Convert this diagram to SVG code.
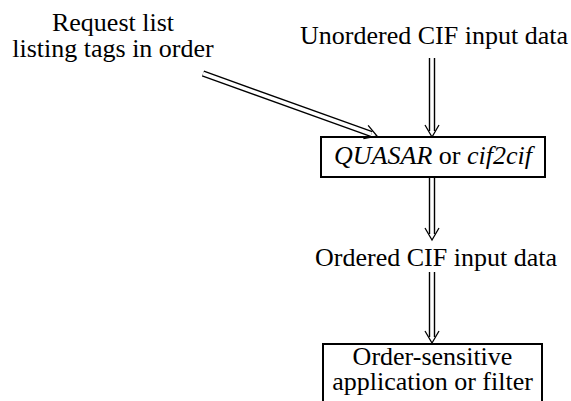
<svg xmlns="http://www.w3.org/2000/svg" width="571" height="401" viewBox="0 0 571 401">
<style>
  text { font-family: "Liberation Serif", "Times New Roman", serif; font-size: 26px; fill: #000; text-anchor: middle; }
  .it { font-style: italic; }
  .box { fill: #fff; stroke: #000; stroke-width: 2; }
  .outer { fill: none; stroke: #000; stroke-width: 6.4; }
  .inner { fill: none; stroke: #fff; stroke-width: 3.6; }
</style>
<defs>
  <marker id="chev" markerUnits="userSpaceOnUse" markerWidth="20" markerHeight="20" refX="6" refY="0" orient="auto" overflow="visible">
    <path d="M0,-7 L12,0 L0,7" fill="none" stroke="#000" stroke-width="1.3"/>
  </marker>
</defs>
<rect width="571" height="401" fill="#fff"/>

<g id="request">
  <text x="113" y="31">Request list</text>
  <text x="113" y="57">listing tags in order</text>
</g>
<g id="unordered">
  <text x="434" y="44">Unordered CIF input data</text>
</g>
<g id="quasar">
  <rect class="box" x="321" y="137" width="224" height="40"/>
  <text x="433" y="164"><tspan class="it">QUASAR</tspan> or <tspan class="it">cif2cif</tspan></text>
</g>
<g id="ordered">
  <text x="436" y="266">Ordered CIF input data</text>
</g>
<g id="application">
  <path class="box" d="M323,401 V344 H542 V401" fill="none"/>
  <text x="432.5" y="365">Order-sensitive</text>
  <text x="432.5" y="390">application or filter</text>
</g>

<g id="connectors">
  <path class="outer" d="M203,73.5 L371.4,134" marker-end="url(#chev)"/>
  <path class="inner" d="M203,73.5 L371.4,134"/>
  <path class="outer" d="M432,58 V131" marker-end="url(#chev)"/>
  <path class="inner" d="M432,58 V131"/>
  <path class="outer" d="M432,178 V234" marker-end="url(#chev)"/>
  <path class="inner" d="M432,178 V234"/>
  <path class="outer" d="M432,272 V337" marker-end="url(#chev)"/>
  <path class="inner" d="M432,272 V337"/>
</g>
</svg>
